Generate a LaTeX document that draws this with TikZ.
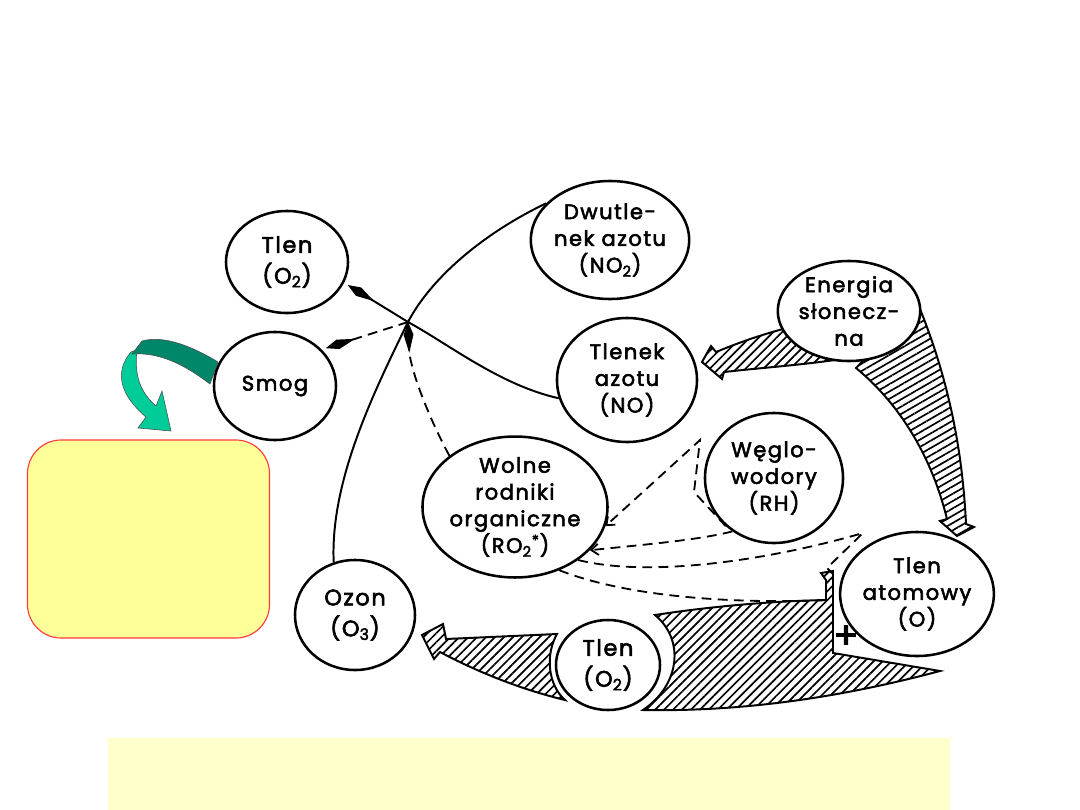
\documentclass[tikz,border=0pt]{standalone}
\usepackage{fontspec}
\setmainfont{Poppins}[LetterSpace=7, FakeBold=2.6]
\usetikzlibrary{shapes.geometric,arrows.meta,patterns.meta}
\definecolor{smog-dark}{HTML}{00876A}
\definecolor{smog-light}{HTML}{00CC99}
\definecolor{note-fill}{HTML}{FFFF99}
\definecolor{note-edge}{HTML}{FF3B3B}
\definecolor{bar-fill}{HTML}{FFFFCC}

\begin{document}
\begin{tikzpicture}[x=0.025cm, y=-0.025cm,
    blob/.style={draw, ellipse, line width=1.8pt, fill=white, inner sep=0pt,
                 align=center, font=\fontsize{15}{19}\selectfont},
    hatch/.style={draw, line width=1.4pt,
                  pattern={Lines[angle=45,distance=4.5pt,line width=1.2pt]}},
    flow/.style={line width=1.4pt},
    dashflow/.style={line width=1.3pt, dash pattern=on 7pt off 4.5pt},
    spindle/.style={-{Kite[length=22pt,width=7pt,inset=13pt]}},
    barb/.style={-{Straight Barb[length=5pt,width=8pt]}}]
  \useasboundingbox (0,0) rectangle (1080,810);

  % yellow boxes
  \fill[bar-fill] (108,738) rectangle (950,810);
  \node[draw=note-edge, fill=note-fill, line width=0.8pt, rounded corners=24pt,
        minimum width=6.05cm, minimum height=4.95cm] (note) at (148.5,539) {};

  % teal ribbon from Smog
  \filldraw[fill=smog-light, draw=black!70, line width=0.4pt]
    (131,352) .. controls (114,372) and (120,395) .. (146,417) -- (138,428)
    -- (171,431) -- (162,391) -- (156,406)
    .. controls (140,392) and (134,375) .. (137,350) -- cycle;
  \filldraw[fill=smog-dark, draw=black!70, line width=0.4pt]
    (218,362) .. controls (185,342) and (160,336) .. (142,341) -- (132,354)
    .. controls (160,352) and (185,365) .. (210,384) -- cycle;

  % hatched arrows
  \draw[hatch] (702,362) -- (711,346) -- (716,352)
    .. controls (745,340) and (770,332) .. (795,326) -- (835,360)
    .. controls (800,365) and (760,368) .. (724,372) -- (722,379) -- cycle;
  \draw[hatch, pattern={Lines[angle=30,distance=4.5pt,line width=1.2pt]}]
    (918,304) .. controls (945,370) and (962,440) .. (966,524) -- (974,527)
    -- (957,536) -- (940,521) -- (947,519)
    .. controls (930,450) and (895,400) .. (856,368) -- cycle;
  \draw[hatch] (655,615) .. controls (720,605) and (780,601) .. (826,600)
    -- (826,580) -- (821,573) -- (833,571) -- (833,653) -- (940,671)
    .. controls (850,695) and (750,712) .. (643,710)
    .. controls (680,685) and (685,640) .. (655,615) -- cycle;
  \draw[hatch] (422,635) -- (443,624) -- (446,639) -- (557,634)
    .. controls (545,655) and (548,685) .. (565,700)
    .. controls (515,688) and (470,668) .. (440,652) -- (434,659) -- cycle;

  % substances
  \node[blob, minimum width=3.05cm, minimum height=2.55cm, font=\fontsize{16}{22}\selectfont] (tlenA) at (287,262) {Tlen\\(O\textsubscript{2})};
  \node[blob, minimum width=2.95cm, minimum height=2.95cm] (no2) at (610,240) {Dwutle-\\nek azotu\\(NO\textsubscript{2})};
  \node[blob, minimum width=3.05cm, minimum height=2.7cm] (smog) at (275,386) {Smog};
  \node[blob, minimum width=3.5cm, minimum height=3.1cm] (no) at (627,380) {Tlenek\\azotu\\(NO)};
  \node[blob, minimum width=3.05cm, minimum height=2.5cm] (energia) at (849,311) {Energia\\słonecz-\\na};
  \node[blob, minimum width=3.45cm, minimum height=3.25cm] (rh) at (774,478) {Węglo-\\wodory\\(RH)};
  \node[blob, minimum width=3.85cm, minimum height=3.1cm] (wolne) at (515,507)
    {Wolne\\rodniki\\organiczne\\(RO\textsubscript{2}\textsuperscript{*})};
  \node[blob, minimum width=3.0cm, minimum height=2.75cm, font=\fontsize{16}{22}\selectfont] (ozon) at (355,615) {Ozon\\(O\textsubscript{3})};
  \node[blob, minimum width=2.6cm, minimum height=2.25cm, font=\fontsize{16}{22}\selectfont] (tlenB) at (608,665) {Tlen\\(O\textsubscript{2})};
  \node[blob, minimum width=3.5cm, minimum height=3.1cm] (atom) at (917,594) {Tlen\\atomowy\\(O)};
  \node[font=\fontsize{26}{26}\selectfont] (plus) at (846,637) {+};

  % reactions
  \coordinate (X) at (408,322);
  \coordinate (ctip) at (863,533);
  \coordinate (cend) at (833,574);
  \coordinate (dend) at (830,600);
  \draw[flow] (no2.150) .. controls (480,235) and (430,280) .. (X)
    .. controls (375,390) and (330,480) .. (ozon.112);
  \draw[flow, spindle, shorten >=3pt] (no.195) .. controls (500,385) and (450,345) .. (X) -- (tlenA.-20);
  \draw[dashflow, spindle] (wolne.142) .. controls (430,420) and (410,370) .. (X);
  \draw[dashflow, spindle, shorten >=3pt] (X) -- (smog.38);
  \draw[dashflow, barb] (rh.225) -- (694,492) -- (700,440) -- (wolne.-12);
  \draw[dashflow, barb] (rh.232) .. controls (700,540) and (640,545) .. (wolne.-30);
  \draw[dashflow] (wolne.-40) .. controls (650,578) and (770,560) .. (ctip) -- (827,568) -- (cend);
  \draw[dashflow] (wolne.-55) .. controls (630,598) and (740,604) .. (dend);
\end{tikzpicture}
\end{document}
